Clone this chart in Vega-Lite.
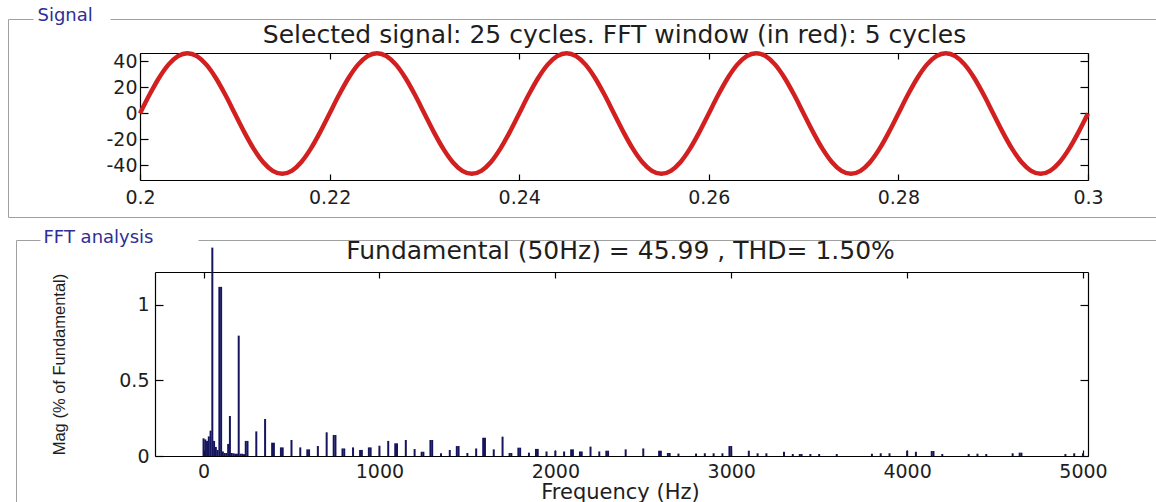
{
  "$schema": "https://vega.github.io/schema/vega-lite/v6.json",
  "width": 1156,
  "height": 502,
  "padding": 0,
  "autosize": {"type": "none"},
  "background": "#ffffff",
  "config": {
    "view": {"stroke": null},
    "axis": {
      "grid": false,
      "labelFont": "DejaVu Sans",
      "labelFontSize": 19,
      "labelColor": "#1e1e1e",
      "labelFlush": false,
      "labelOverlap": false,
      "domainColor": "#000000",
      "domainWidth": 1.2,
      "tickColor": "#000000",
      "tickWidth": 1.2,
      "titleFont": "DejaVu Sans",
      "titleFontWeight": "normal",
      "titleColor": "#1e1e1e"
    }
  },
  "datasets": {
    "signal": [
      {"t": 0.2, "v": 0}, {"t": 0.201, "v": 14.34}, {"t": 0.202, "v": 27.27}, {"t": 0.203, "v": 37.54}, {"t": 0.204, "v": 44.13},
      {"t": 0.205, "v": 46.4}, {"t": 0.206, "v": 44.13}, {"t": 0.207, "v": 37.54}, {"t": 0.208, "v": 27.27}, {"t": 0.209, "v": 14.34},
      {"t": 0.21, "v": 0}, {"t": 0.211, "v": -14.34}, {"t": 0.212, "v": -27.27}, {"t": 0.213, "v": -37.54}, {"t": 0.214, "v": -44.13},
      {"t": 0.215, "v": -46.4}, {"t": 0.216, "v": -44.13}, {"t": 0.217, "v": -37.54}, {"t": 0.218, "v": -27.27}, {"t": 0.219, "v": -14.34},
      {"t": 0.22, "v": 0}, {"t": 0.221, "v": 14.34}, {"t": 0.222, "v": 27.27}, {"t": 0.223, "v": 37.54}, {"t": 0.224, "v": 44.13},
      {"t": 0.225, "v": 46.4}, {"t": 0.226, "v": 44.13}, {"t": 0.227, "v": 37.54}, {"t": 0.228, "v": 27.27}, {"t": 0.229, "v": 14.34},
      {"t": 0.23, "v": 0}, {"t": 0.231, "v": -14.34}, {"t": 0.232, "v": -27.27}, {"t": 0.233, "v": -37.54}, {"t": 0.234, "v": -44.13},
      {"t": 0.235, "v": -46.4}, {"t": 0.236, "v": -44.13}, {"t": 0.237, "v": -37.54}, {"t": 0.238, "v": -27.27}, {"t": 0.239, "v": -14.34},
      {"t": 0.24, "v": 0}, {"t": 0.241, "v": 14.34}, {"t": 0.242, "v": 27.27}, {"t": 0.243, "v": 37.54}, {"t": 0.244, "v": 44.13},
      {"t": 0.245, "v": 46.4}, {"t": 0.246, "v": 44.13}, {"t": 0.247, "v": 37.54}, {"t": 0.248, "v": 27.27}, {"t": 0.249, "v": 14.34},
      {"t": 0.25, "v": 0}, {"t": 0.251, "v": -14.34}, {"t": 0.252, "v": -27.27}, {"t": 0.253, "v": -37.54}, {"t": 0.254, "v": -44.13},
      {"t": 0.255, "v": -46.4}, {"t": 0.256, "v": -44.13}, {"t": 0.257, "v": -37.54}, {"t": 0.258, "v": -27.27}, {"t": 0.259, "v": -14.34},
      {"t": 0.26, "v": 0}, {"t": 0.261, "v": 14.34}, {"t": 0.262, "v": 27.27}, {"t": 0.263, "v": 37.54}, {"t": 0.264, "v": 44.13},
      {"t": 0.265, "v": 46.4}, {"t": 0.266, "v": 44.13}, {"t": 0.267, "v": 37.54}, {"t": 0.268, "v": 27.27}, {"t": 0.269, "v": 14.34},
      {"t": 0.27, "v": 0}, {"t": 0.271, "v": -14.34}, {"t": 0.272, "v": -27.27}, {"t": 0.273, "v": -37.54}, {"t": 0.274, "v": -44.13},
      {"t": 0.275, "v": -46.4}, {"t": 0.276, "v": -44.13}, {"t": 0.277, "v": -37.54}, {"t": 0.278, "v": -27.27}, {"t": 0.279, "v": -14.34},
      {"t": 0.28, "v": 0}, {"t": 0.281, "v": 14.34}, {"t": 0.282, "v": 27.27}, {"t": 0.283, "v": 37.54}, {"t": 0.284, "v": 44.13},
      {"t": 0.285, "v": 46.4}, {"t": 0.286, "v": 44.13}, {"t": 0.287, "v": 37.54}, {"t": 0.288, "v": 27.27}, {"t": 0.289, "v": 14.34},
      {"t": 0.29, "v": 0}, {"t": 0.291, "v": -14.34}, {"t": 0.292, "v": -27.27}, {"t": 0.293, "v": -37.54}, {"t": 0.294, "v": -44.13},
      {"t": 0.295, "v": -46.4}, {"t": 0.296, "v": -44.13}, {"t": 0.297, "v": -37.54}, {"t": 0.298, "v": -27.27}, {"t": 0.299, "v": -14.34},
      {"t": 0.3, "v": 0}
    ],
    "fft": [
      {"f": 0, "m": 0.117}, {"f": 10, "m": 0.11}, {"f": 20, "m": 0.1}, {"f": 30, "m": 0.13}, {"f": 40, "m": 0.168},
      {"f": 50, "m": 1.38}, {"f": 60, "m": 0.1}, {"f": 70, "m": 0.06}, {"f": 80, "m": 0.04}, {"f": 90, "m": 1.12},
      {"f": 100, "m": 1.12}, {"f": 110, "m": 0.03}, {"f": 120, "m": 0.02}, {"f": 130, "m": 0.02}, {"f": 140, "m": 0.08},
      {"f": 150, "m": 0.265}, {"f": 160, "m": 0.02}, {"f": 170, "m": 0.018}, {"f": 180, "m": 0.015}, {"f": 190, "m": 0.015},
      {"f": 200, "m": 0.797}, {"f": 210, "m": 0.015}, {"f": 220, "m": 0.015}, {"f": 230, "m": 0.012}, {"f": 240, "m": 0.1},
      {"f": 250, "m": 0.1}, {"f": 300, "m": 0.163}, {"f": 350, "m": 0.245}, {"f": 390, "m": 0.088}, {"f": 400, "m": 0.088},
      {"f": 440, "m": 0.057}, {"f": 450, "m": 0.057}, {"f": 500, "m": 0.106}, {"f": 550, "m": 0.057}, {"f": 590, "m": 0.044},
      {"f": 600, "m": 0.044}, {"f": 650, "m": 0.066}, {"f": 700, "m": 0.157}, {"f": 740, "m": 0.139}, {"f": 750, "m": 0.139},
      {"f": 790, "m": 0.05}, {"f": 800, "m": 0.05}, {"f": 850, "m": 0.057}, {"f": 890, "m": 0.04}, {"f": 900, "m": 0.04},
      {"f": 940, "m": 0.057}, {"f": 950, "m": 0.057}, {"f": 1000, "m": 0.068}, {"f": 1050, "m": 0.1}, {"f": 1090, "m": 0.084},
      {"f": 1100, "m": 0.084}, {"f": 1150, "m": 0.106}, {"f": 1200, "m": 0.046}, {"f": 1240, "m": 0.028}, {"f": 1250, "m": 0.028},
      {"f": 1290, "m": 0.106}, {"f": 1300, "m": 0.106}, {"f": 1350, "m": 0.018}, {"f": 1400, "m": 0.04}, {"f": 1440, "m": 0.066},
      {"f": 1450, "m": 0.066}, {"f": 1500, "m": 0.02}, {"f": 1550, "m": 0.05}, {"f": 1590, "m": 0.121}, {"f": 1600, "m": 0.121},
      {"f": 1650, "m": 0.044}, {"f": 1700, "m": 0.128}, {"f": 1740, "m": 0.02}, {"f": 1750, "m": 0.02}, {"f": 1790, "m": 0.055},
      {"f": 1800, "m": 0.055}, {"f": 1850, "m": 0.022}, {"f": 1890, "m": 0.047}, {"f": 1900, "m": 0.047}, {"f": 1950, "m": 0.03},
      {"f": 2000, "m": 0.035}, {"f": 2050, "m": 0.03}, {"f": 2090, "m": 0.044}, {"f": 2100, "m": 0.044}, {"f": 2140, "m": 0.03},
      {"f": 2150, "m": 0.03}, {"f": 2200, "m": 0.062}, {"f": 2250, "m": 0.03}, {"f": 2290, "m": 0.035}, {"f": 2300, "m": 0.035},
      {"f": 2400, "m": 0.044}, {"f": 2500, "m": 0.05}, {"f": 2590, "m": 0.035}, {"f": 2600, "m": 0.035}, {"f": 2640, "m": 0.02},
      {"f": 2650, "m": 0.02}, {"f": 2700, "m": 0.016}, {"f": 2800, "m": 0.016}, {"f": 2850, "m": 0.018}, {"f": 2900, "m": 0.018},
      {"f": 2950, "m": 0.018}, {"f": 2990, "m": 0.066}, {"f": 3000, "m": 0.066}, {"f": 3100, "m": 0.035}, {"f": 3150, "m": 0.018},
      {"f": 3200, "m": 0.018}, {"f": 3300, "m": 0.028}, {"f": 3350, "m": 0.013}, {"f": 3390, "m": 0.013}, {"f": 3400, "m": 0.013},
      {"f": 3450, "m": 0.013}, {"f": 3500, "m": 0.013}, {"f": 3600, "m": 0.013}, {"f": 3800, "m": 0.015}, {"f": 3850, "m": 0.018},
      {"f": 3900, "m": 0.018}, {"f": 4000, "m": 0.035}, {"f": 4050, "m": 0.028}, {"f": 4140, "m": 0.033}, {"f": 4150, "m": 0.033},
      {"f": 4200, "m": 0.013}, {"f": 4350, "m": 0.013}, {"f": 4400, "m": 0.015}, {"f": 4450, "m": 0.013}, {"f": 4600, "m": 0.018},
      {"f": 4640, "m": 0.022}, {"f": 4650, "m": 0.022}, {"f": 4900, "m": 0.013}, {"f": 4950, "m": 0.018}, {"f": 5000, "m": 0.018}
    ],
    "frame": [{"a": 0}, {"a": 1}]
  },
  "layer": [
    {
      "data": {"name": "signal"},
      "layer": [
        {
          "mark": {"type": "line", "color": "#d21f1f", "strokeWidth": 4.5, "interpolate": "monotone"},
          "encoding": {
            "x": {"field": "t", "type": "quantitative",
              "scale": {"domain": [0.2, 0.3], "range": [140, 1088], "nice": false, "zero": false},
              "axis": {"orient": "bottom", "offset": -322, "values": [0.2, 0.22, 0.24, 0.26, 0.28, 0.3], "labelExpr": "'' + datum.value", "tickSize": -6, "labelPadding": 14, "title": null}},
            "y": {"field": "v", "type": "quantitative",
              "scale": {"domain": [-51.2, 46.5], "range": [180, 53], "nice": false, "zero": false},
              "axis": {"orient": "left", "offset": -140, "values": [-40, -20, 0, 20, 40], "labelExpr": "'' + datum.value", "tickSize": -8, "labelPadding": 11, "title": null}}
          }
        },
        {
          "mark": {"type": "point", "opacity": 0},
          "encoding": {
            "x": {"field": "t", "type": "quantitative",
              "axis": {"orient": "top", "offset": -53, "values": [0.2, 0.22, 0.24, 0.26, 0.28, 0.3], "labels": false, "tickSize": -6,
                "title": "Selected signal: 25 cycles. FFT window (in red): 5 cycles", "titleX": 614, "titleY": -11, "titleAlign": "center", "titleBaseline": "alphabetic", "titleAngle": 0, "titleFontSize": 25}},
            "y": {"field": "v", "type": "quantitative",
              "axis": {"orient": "right", "offset": -68, "values": [-40, -20, 0, 20, 40], "labels": false, "tickSize": -8, "title": null}}
          }
        }
      ],
      "resolve": {"axis": {"x": "independent", "y": "independent"}}
    },
    {
      "data": {"name": "fft"},
      "layer": [
        {
          "mark": {"type": "bar", "color": "#15155e", "width": 2, "orient": "vertical"},
          "encoding": {
            "x": {"field": "f", "type": "quantitative",
              "scale": {"domain": [-247.5, 5000], "range": [155, 1088], "nice": false, "zero": false},
              "axis": {"orient": "bottom", "offset": -46, "values": [0, 1000, 2000, 3000, 4000, 5000], "labelExpr": "'' + datum.value", "tickSize": -6, "labelPadding": 12,
                "title": "Frequency (Hz)", "titleX": 620, "titleY": 42, "titleAlign": "center", "titleBaseline": "alphabetic", "titleAngle": 0, "titleFontSize": 21}},
            "y": {"field": "m", "type": "quantitative",
              "scale": {"domain": [0, 1.2185], "range": [456, 272], "nice": false},
              "axis": {"orient": "left", "offset": -155, "values": [0, 0.5, 1], "labelExpr": "'' + datum.value", "tickSize": -8, "labelPadding": 14,
                "title": "Mag (% of Fundamental)", "titleX": -96, "titleY": 364, "titleAngle": -90, "titleAlign": "center", "titleBaseline": "middle", "titleFont": "Liberation Sans", "titleFontSize": 16.5}}
          }
        },
        {
          "mark": {"type": "point", "opacity": 0},
          "encoding": {
            "x": {"field": "f", "type": "quantitative",
              "axis": {"orient": "top", "offset": -272, "values": [0, 1000, 2000, 3000, 4000, 5000], "labels": false, "tickSize": -6,
                "title": "Fundamental (50Hz) = 45.99 , THD= 1.50%", "titleX": 620, "titleY": -14, "titleAlign": "center", "titleBaseline": "alphabetic", "titleAngle": 0, "titleFontSize": 25}},
            "y": {"field": "m", "type": "quantitative",
              "axis": {"orient": "right", "offset": -68, "values": [0, 0.5, 1], "labels": false, "tickSize": -8, "title": null}}
          }
        }
      ],
      "resolve": {"axis": {"x": "independent", "y": "independent"}}
    },
    {
      "data": {"name": "frame"},
      "mark": {"type": "point", "opacity": 0},
      "encoding": {
        "x": {"field": "a", "type": "quantitative", "scale": {"domain": [0, 1], "range": [8, 33], "nice": false, "zero": false},
          "axis": {"orient": "top", "offset": -19, "labels": false, "ticks": false, "domainColor": "#a0a0a0", "domainWidth": 1,
            "title": "Signal", "titleX": 37, "titleY": 1, "titleAlign": "left", "titleBaseline": "alphabetic", "titleAngle": 0, "titleFontSize": 18, "titleColor": "#2e2e96"}},
        "y": {"field": "a", "type": "quantitative", "scale": {"domain": [0, 1], "range": [217, 19], "nice": false, "zero": false},
          "axis": {"orient": "left", "offset": -8, "labels": false, "ticks": false, "domainColor": "#a0a0a0", "domainWidth": 1, "title": null}}
      }
    },
    {
      "data": {"name": "frame"},
      "mark": {"type": "point", "opacity": 0},
      "encoding": {
        "x": {"field": "a", "type": "quantitative", "scale": {"domain": [0, 1], "range": [110, 1160], "nice": false, "zero": false},
          "axis": {"orient": "top", "offset": -19, "labels": false, "ticks": false, "domainColor": "#a0a0a0", "domainWidth": 1, "title": null}}
      }
    },
    {
      "data": {"name": "frame"},
      "mark": {"type": "point", "opacity": 0},
      "encoding": {
        "x": {"field": "a", "type": "quantitative", "scale": {"domain": [0, 1], "range": [8, 1160], "nice": false, "zero": false},
          "axis": {"orient": "bottom", "offset": -285, "labels": false, "ticks": false, "domainColor": "#a0a0a0", "domainWidth": 1, "title": null}}
      }
    },
    {
      "data": {"name": "frame"},
      "mark": {"type": "point", "opacity": 0},
      "encoding": {
        "x": {"field": "a", "type": "quantitative", "scale": {"domain": [0, 1], "range": [16, 40], "nice": false, "zero": false},
          "axis": {"orient": "top", "offset": -240, "labels": false, "ticks": false, "domainColor": "#a0a0a0", "domainWidth": 1,
            "title": "FFT analysis", "titleX": 43, "titleY": 2, "titleAlign": "left", "titleBaseline": "alphabetic", "titleAngle": 0, "titleFontSize": 18, "titleColor": "#2e2e96"}},
        "y": {"field": "a", "type": "quantitative", "scale": {"domain": [0, 1], "range": [510, 240], "nice": false, "zero": false},
          "axis": {"orient": "left", "offset": -16, "labels": false, "ticks": false, "domainColor": "#a0a0a0", "domainWidth": 1, "title": null}}
      }
    },
    {
      "data": {"name": "frame"},
      "mark": {"type": "point", "opacity": 0},
      "encoding": {
        "x": {"field": "a", "type": "quantitative", "scale": {"domain": [0, 1], "range": [198, 1160], "nice": false, "zero": false},
          "axis": {"orient": "top", "offset": -240, "labels": false, "ticks": false, "domainColor": "#a0a0a0", "domainWidth": 1, "title": null}}
      }
    }
  ],
  "resolve": {"scale": {"x": "independent", "y": "independent"}, "axis": {"x": "independent", "y": "independent"}}
}
